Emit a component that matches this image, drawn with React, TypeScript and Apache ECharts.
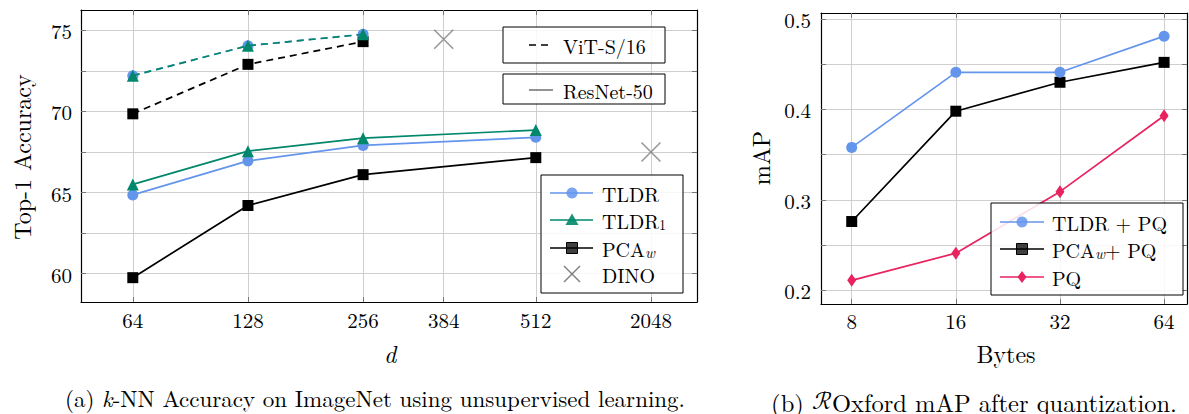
import React, { useEffect, useRef } from "react";
import * as echarts from "echarts";

// ---------- data: left panel (k-NN accuracy) ----------
const dims = ["64", "128", "256", "384", "512", "2048"];
const dimAxisCoord = [0, 1, 2, 2.7, 3.5, 4.5];
const vitDims = ["64", "128", "256"];
const vitTLDR = [72.2, 74.05, 74.75];
const vitTLDR1 = [72.2, 74.05, 74.75];
const vitPCAw = [69.85, 72.9, 74.3];
const resDims = ["64", "128", "256", "512"];
const resTLDR = [64.85, 66.95, 67.9, 68.4];
const resTLDR1 = [65.5, 67.55, 68.35, 68.85];
const resPCAw = [59.75, 64.2, 66.1, 67.15];
const dinoDims = ["384", "2048"];
const dinoVals = [74.45, 67.5];
const leftYTicks = [60, 65, 70, 75];
const leftYMinor = [62.5, 67.5, 72.5];

// ---------- data: right panel (ROxford mAP) ----------
const bytes = ["8", "16", "32", "64"];
const tldrPQ = [0.358, 0.441, 0.441, 0.481];
const pcaPQ = [0.276, 0.398, 0.43, 0.452];
const pqOnly = [0.211, 0.241, 0.309, 0.393];
const rightYTicks = [0.2, 0.3, 0.4, 0.5];
const rightYMinor = [0.25, 0.35, 0.45];

const FONT = "Latin Modern Roman";
const MATH = "Latin Modern Math";
const BLUE = "#6495ed";
const TEAL = "#00876c";
const PINK = "#e8235f";
const GREY = "#808080";

const coordOfDim = (d: string) => dimAxisCoord[dims.indexOf(d)];

function mainAxis(gridIndex: number, min: number, max: number, majors: number[], minors: number[], position: string, formatter: (v: number) => string, margin: number) {
  return {
    type: "value",
    gridIndex,
    min,
    max,
    position,
    axisLine: { show: true, onZero: false, lineStyle: { color: "#000", width: 1.2 } },
    axisTick: { show: true, inside: true, length: 5, customValues: [...majors, ...minors], lineStyle: { color: "#777", width: 1 } },
    axisLabel: { show: true, customValues: majors, formatter, fontFamily: FONT, fontSize: 21, color: "#000", margin },
    splitLine: { show: true, lineStyle: { color: "#cfcfcf", width: 1 } },
    minorTick: { show: false },
    minorSplitLine: { show: false },
  };
}
function mirrorAxis(gridIndex: number, min: number, max: number, ticks: number[], position: string) {
  return {
    type: "value",
    gridIndex,
    min,
    max,
    position,
    axisLine: { show: true, onZero: false, lineStyle: { color: "#000", width: 1.2 } },
    axisTick: { show: true, inside: true, length: 5, customValues: ticks, lineStyle: { color: "#777", width: 1 } },
    axisLabel: { show: false },
    splitLine: { show: false },
  };
}

function lineSeries(xi: number, yi: number, data: number[][], color: string, symbol: any, size: any, dashed: boolean, z: number) {
  return {
    type: "line",
    xAxisIndex: xi,
    yAxisIndex: yi,
    data,
    symbol,
    symbolSize: size,
    showSymbol: true,
    silent: true,
    z,
    lineStyle: { color, width: 1.7, type: dashed ? [7, 5] : "solid" },
    itemStyle: { color, borderWidth: 0 },
    emphasis: { disabled: true },
  };
}

const txt = (x: number, y: number, text: string, rich: any = undefined) => ({
  type: "text",
  x,
  y,
  z: 110,
  silent: true,
  style: { text, fontFamily: FONT, fontSize: 20, lineHeight: 22, fill: "#000", align: "left", verticalAlign: "middle", rich },
});
const seg = (x1: number, y1: number, x2: number, y2: number, stroke: string, w = 1.7, dash: any = null) => ({
  type: "line",
  z: 105,
  silent: true,
  shape: { x1, y1, x2, y2 },
  style: { stroke, lineWidth: w, lineDash: dash },
});
const box = (x: number, y: number, w: number, h: number) => ({
  type: "rect",
  z: 100,
  silent: true,
  shape: { x, y, width: w, height: h },
  style: { fill: "rgba(255,255,255,0.85)", stroke: "#000", lineWidth: 1 },
});
const subRich = {
  s: { fontFamily: FONT, fontSize: 14, verticalAlign: "bottom", lineHeight: 7 },
  w: { fontFamily: FONT, fontSize: 15, fontStyle: "italic", verticalAlign: "bottom", lineHeight: 7 },
};

function buildOption() {
  const L_XMIN = -0.45, L_XMAX = 4.9, L_YMIN = 58.25, L_YMAX = 76.25;
  const R_XMIN = -0.295, R_XMAX = 3.22, R_YMIN = 0.1848, R_YMAX = 0.5066;
  const dimFmt = (v: number) => dims[dimAxisCoord.indexOf(v)] ?? "";
  const byteIdx = bytes.map((_, i) => i);
  const byteFmt = (v: number) => bytes[v] ?? "";

  const graphic: any[] = [
    // axis titles
    { type: "text", x: 21, y: 157, rotation: Math.PI / 2, z: 110, silent: true, style: { text: "Top-1 Accuracy", fontFamily: FONT, fontSize: 24, fill: "#000", align: "center", verticalAlign: "middle" } },
    { type: "text", x: 390, y: 353, z: 110, silent: true, style: { text: "d", fontFamily: FONT, fontStyle: "italic", fontSize: 24, fill: "#000", align: "center", verticalAlign: "middle" } },
    { type: "text", x: 760, y: 158, rotation: Math.PI / 2, z: 110, silent: true, style: { text: "mAP", fontFamily: FONT, fontSize: 24, fill: "#000", align: "center", verticalAlign: "middle" } },
    { type: "text", x: 1006, y: 353, z: 110, silent: true, style: { text: "Bytes", fontFamily: FONT, fontSize: 24, fill: "#000", align: "center", verticalAlign: "middle" } },
    // captions
    {
      type: "text", x: 375, y: 397, z: 110, silent: true,
      style: {
        text: "(a) {i|k}-NN Accuracy on ImageNet using unsupervised learning.",
        fontFamily: FONT, fontSize: 23, lineHeight: 24, fill: "#000", align: "center", verticalAlign: "middle",
        rich: { i: { fontFamily: FONT, fontSize: 23, lineHeight: 24, fontStyle: "italic" } },
      },
    },
    {
      type: "text", x: 974, y: 401, z: 110, silent: true,
      style: {
        text: "(b) {r|ℛ}Oxford mAP after quantization.",
        fontFamily: FONT, fontSize: 24.5, lineHeight: 22, fill: "#000", align: "center", verticalAlign: "middle",
        rich: { r: { fontFamily: MATH, fontSize: 24.5, lineHeight: 22 } },
      },
    },
    // left: architecture legend boxes
    box(503, 27, 162, 36),
    seg(529, 45, 553, 45, "#000", 1.7, [7, 5]),
    txt(563, 45, "ViT-S/16"),
    box(503, 74, 162, 30),
    seg(529, 90, 553, 90, GREY, 1.7),
    txt(563, 90, "ResNet-50"),
    // left: method legend
    box(541, 175, 142, 118),
    seg(550, 193, 593, 193, BLUE),
    { type: "circle", z: 106, silent: true, shape: { cx: 572, cy: 193, r: 5.5 }, style: { fill: BLUE, opacity: 0.85 } },
    txt(602, 193, "TLDR"),
    seg(550, 220, 593, 220, TEAL),
    { type: "polygon", z: 106, silent: true, shape: { points: [[572, 213.5], [578.5, 225], [565.5, 225]] }, style: { fill: TEAL, opacity: 0.9 } },
    txt(602, 220, "TLDR{s|1}", subRich),
    seg(550, 248, 593, 248, "#000"),
    { type: "rect", z: 106, silent: true, shape: { x: 566.5, y: 242.5, width: 11, height: 11 }, style: { fill: "rgba(0,0,0,0.75)", stroke: "#000", lineWidth: 1 } },
    txt(602, 248, "PCA{w|w}", subRich),
    seg(564, 266, 580, 282, GREY, 1.5),
    seg(580, 266, 564, 282, GREY, 1.5),
    txt(602, 274, "DINO"),
    // right legend
    box(991, 203, 192, 92),
    seg(1000, 222, 1044, 222, BLUE),
    { type: "circle", z: 106, silent: true, shape: { cx: 1022, cy: 222, r: 5.5 }, style: { fill: BLUE, opacity: 0.85 } },
    txt(1052, 222, "TLDR + PQ"),
    seg(1000, 249, 1044, 249, "#000"),
    { type: "rect", z: 106, silent: true, shape: { x: 1016.5, y: 243.5, width: 11, height: 11 }, style: { fill: "rgba(0,0,0,0.75)", stroke: "#000", lineWidth: 1 } },
    txt(1052, 249, "PCA{w|w}+ PQ", subRich),
    seg(1000, 277, 1044, 277, PINK),
    { type: "polygon", z: 106, silent: true, shape: { points: [[1022, 271], [1026.5, 277], [1022, 283], [1017.5, 277]] }, style: { fill: PINK } },
    txt(1052, 277, "PQ"),
  ];

  const vitData = (vals: number[]) => vitDims.map((d, i) => [coordOfDim(d), vals[i]]);
  const resData = (vals: number[]) => resDims.map((d, i) => [coordOfDim(d), vals[i]]);
  const byteData = (vals: number[]) => byteIdx.map((b, i) => [b, vals[i]]);

  return {
    animation: false,
    backgroundColor: "#fff",
    grid: [
      { left: 81, top: 10, width: 616, height: 292, containLabel: false },
      { left: 821, top: 13, width: 366, height: 291, containLabel: false },
    ],
    xAxis: [
      mainAxis(0, L_XMIN, L_XMAX, dimAxisCoord, [], "bottom", dimFmt, 6),
      mirrorAxis(0, L_XMIN, L_XMAX, dimAxisCoord, "top"),
      mainAxis(1, R_XMIN, R_XMAX, byteIdx, [], "bottom", byteFmt, 5),
      mirrorAxis(1, R_XMIN, R_XMAX, byteIdx, "top"),
    ],
    yAxis: [
      mainAxis(0, L_YMIN, L_YMAX, leftYTicks, leftYMinor, "left", (v: number) => String(v), 9),
      mirrorAxis(0, L_YMIN, L_YMAX, [...leftYTicks, ...leftYMinor], "right"),
      mainAxis(1, R_YMIN, R_YMAX, rightYTicks, rightYMinor, "left", (v: number) => String(v), 10),
      mirrorAxis(1, R_YMIN, R_YMAX, [...rightYTicks, ...rightYMinor], "right"),
    ],
    graphic,
    series: [
      // ViT-S/16 (dashed)
      lineSeries(0, 0, vitData(vitPCAw), "#000", "rect", 11, true, 3),
      lineSeries(0, 0, vitData(vitTLDR), BLUE, "circle", 11, true, 4),
      lineSeries(0, 0, vitData(vitTLDR1), TEAL, "triangle", 12, true, 5),
      // ResNet-50 (solid)
      lineSeries(0, 0, resData(resPCAw), "#000", "rect", 11, false, 3),
      lineSeries(0, 0, resData(resTLDR), BLUE, "circle", 11, false, 4),
      lineSeries(0, 0, resData(resTLDR1), TEAL, "triangle", 12, false, 5),
      // DINO
      {
        type: "scatter",
        xAxisIndex: 0,
        yAxisIndex: 0,
        silent: true,
        z: 6,
        symbol: "path://M0,0L10,10M10,0L0,10",
        symbolSize: 19,
        data: dinoDims.map((d, i) => [coordOfDim(d), dinoVals[i]]),
        itemStyle: { color: "rgba(0,0,0,0)", borderColor: GREY, borderWidth: 1.6 },
        emphasis: { disabled: true },
      },
      // right panel
      lineSeries(2, 2, byteData(pqOnly), PINK, "diamond", [9, 13], false, 3),
      lineSeries(2, 2, byteData(pcaPQ), "#000", "rect", 11, false, 4),
      lineSeries(2, 2, byteData(tldrPQ), BLUE, "circle", 11, false, 5),
    ],
  };
}

export default function App() {
  const ref = useRef<HTMLDivElement>(null);
  useEffect(() => {
    if (!ref.current) return;
    const chart = echarts.init(ref.current, null, { renderer: "svg" });
    chart.setOption(buildOption() as any);
    return () => chart.dispose();
  }, []);
  return <div ref={ref} style={{ position: "absolute", left: 0, top: 0, width: 1189, height: 414 }} />;
}
